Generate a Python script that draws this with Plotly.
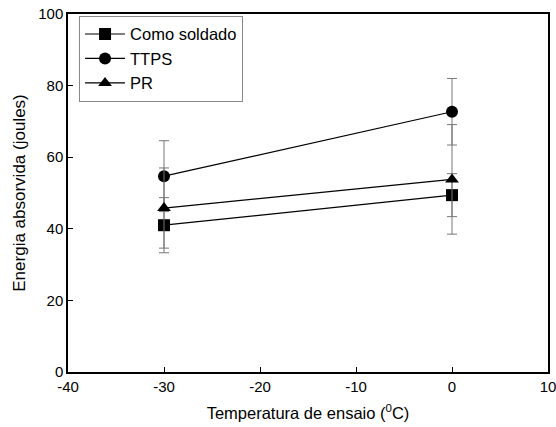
import plotly.graph_objects as go

temps = [-30, 0]
como_soldado = [41.0, 49.4]
como_soldado_err = [7.7, 6.0]
ttps = [54.7, 72.7]
ttps_err = [9.9, 9.3]
pr = [45.8, 53.8]
pr_err = [11.2, 15.3]

x_ticks = [-40, -30, -20, -10, 0, 10]
x_tick_text = ["-40", "-30", "-20", "-10", "0", "10"]
y_ticks = [0, 20, 40, 60, 80, 100]

series = [
    ("Como soldado", como_soldado, como_soldado_err, "square"),
    ("TTPS", ttps, ttps_err, "circle"),
    ("PR", pr, pr_err, "triangle-up"),
]

fig = go.Figure()
for name, vals, errs, sym in series:
    fig.add_trace(go.Scatter(
        x=temps, y=vals, name=name, mode="lines+markers",
        line=dict(color="black", width=1.2),
        marker=dict(symbol=sym, size=12, color="black"),
        error_y=dict(type="data", array=errs, visible=True,
                     color="#777777", thickness=1, width=5),
    ))

fig.update_layout(
    width=556, height=427,
    margin=dict(l=68, r=8, t=14, b=55),
    paper_bgcolor="white", plot_bgcolor="white",
    font=dict(family="Liberation Sans, Arial, sans-serif", color="black", size=15),
    showlegend=True,
    legend=dict(
        x=0.023, y=0.995, xanchor="left", yanchor="top",
        bgcolor="white", bordercolor="#888888", borderwidth=1,
        font=dict(size=16.5), tracegroupgap=0, itemwidth=40,
    ),
    xaxis=dict(
        range=[-40, 10], tickvals=x_ticks, ticktext=x_tick_text,
        ticks="inside", ticklen=5, tickcolor="black", automargin=False,
        ticklabeloverflow="allow",
        showline=True, linecolor="black", linewidth=1.5, mirror=True,
        showgrid=False, zeroline=False,
        title=dict(text="Temperatura de ensaio (<sup>0</sup>C)", font=dict(size=16.5), standoff=14),
    ),
    yaxis=dict(
        range=[0, 100], tickvals=y_ticks,
        ticks="inside", ticklen=5, tickcolor="black", automargin=False,
        showline=True, linecolor="black", linewidth=1.5, mirror=True,
        showgrid=False, zeroline=False,
        title=dict(text="Energia absorvida (joules)", font=dict(size=17), standoff=8),
    ),
)

fig.write_html("out.html")
